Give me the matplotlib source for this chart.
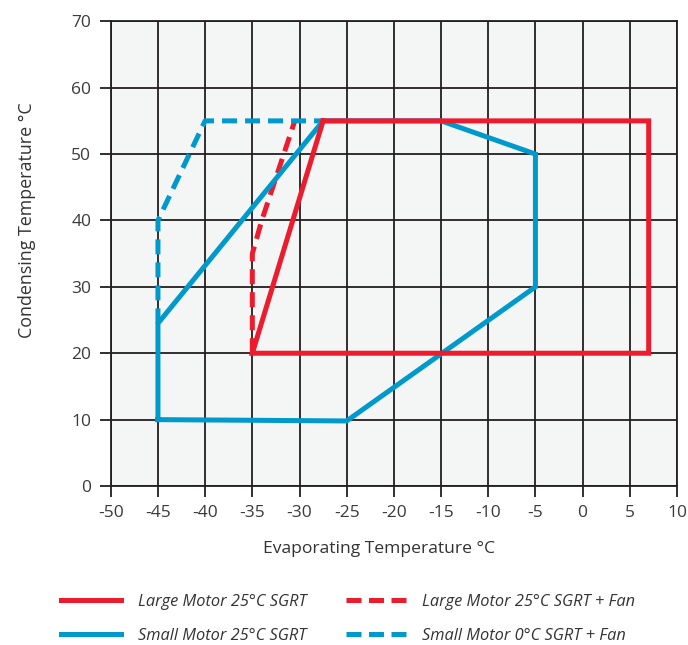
import matplotlib
matplotlib.use("Agg")
import matplotlib.pyplot as plt

plt.rcParams['font.family'] = ['Open Sans', 'DejaVu Sans']
plt.rcParams['axes.unicode_minus'] = False

# Data (evaporating temp, condensing temp)
large_x = [-27.5, 7, 7, -35, -27.5]
large_y = [55, 55, 20, 20, 55]
large_fan_x = [-35, -35, -34, -30.5]
large_fan_y = [20, 35, 40, 55]
small_x = [-45, -25, -5, -5, -15, -27.5, -45, -45]
small_y = [10, 9.8, 30, 50, 55, 55, 24.5, 10]
small_fan_x = [-45, -45, -40, -27.5]
small_fan_y = [24.5, 40, 55, 55]

labels = ["Large Motor 25°C SGRT", "Small Motor 25°C SGRT",
          "Large Motor 25°C SGRT + Fan", "Small Motor 0°C SGRT + Fan"]
xticks = list(range(-50, 11, 5))
yticks = list(range(0, 71, 10))

RED = '#EC1C2E'
BLUE = '#0099CC'
GRID = '#231F20'

fig = plt.figure(figsize=(6.88, 6.45), dpi=100)
ax = fig.add_axes([0.161, 0.2465, 0.823, 0.7205])
ax.set_facecolor('#F4F5F5')

lw = 3.6
l1, = ax.plot(large_x, large_y, color=RED, lw=lw, solid_joinstyle='miter', zorder=4)
l3, = ax.plot(large_fan_x, large_fan_y, color=RED, lw=lw, dashes=(3, 1.6), zorder=3)
l2, = ax.plot(small_x, small_y, color=BLUE, lw=lw, solid_joinstyle='miter', zorder=3)
l4, = ax.plot(small_fan_x, small_fan_y, color=BLUE, lw=lw, dashes=(3, 1.6), zorder=3)

ax.set_xlim(-50, 10)
ax.set_ylim(0, 70)
ax.set_xticks(xticks)
ax.set_yticks(yticks)
ax.grid(True, color=GRID, lw=1.3, zorder=1)
ax.set_axisbelow(True)
for s in ax.spines.values():
    s.set_color(GRID)
    s.set_linewidth(1.3)
ax.tick_params(axis='both', length=8, width=1.3, color=GRID, labelsize=12.5,
               labelcolor='#3a3a3a')
ax.tick_params(axis='x', pad=6)
ax.tick_params(axis='y', pad=6)

ax.set_xlabel("Evaporating Temperature °C", fontsize=12.6, color='#333333', va='center')
ax.xaxis.set_label_coords(0.474, -0.135)
ax.set_ylabel("Condensing Temperature °C", fontsize=12.9, color='#333333', va='center')
ax.yaxis.set_label_coords(-0.148, 0.572)

leg = fig.legend([l1, l2, l3, l4], labels, loc='center', bbox_to_anchor=(0.506, 0.0403),
                 ncol=2, frameon=False, handlelength=3.66, columnspacing=2.4,
                 handletextpad=1.0, labelspacing=1.1,
                 prop={'style': 'italic', 'size': 11.8})
for t in leg.get_texts():
    t.set_color('#333333')
for h in leg.legend_handles:
    h.set_linewidth(3.6)
leg.legend_handles[2].set_dashes((3, 1.5))
leg.legend_handles[3].set_dashes((3, 1.5))

fig.savefig('out.png', dpi=100)
